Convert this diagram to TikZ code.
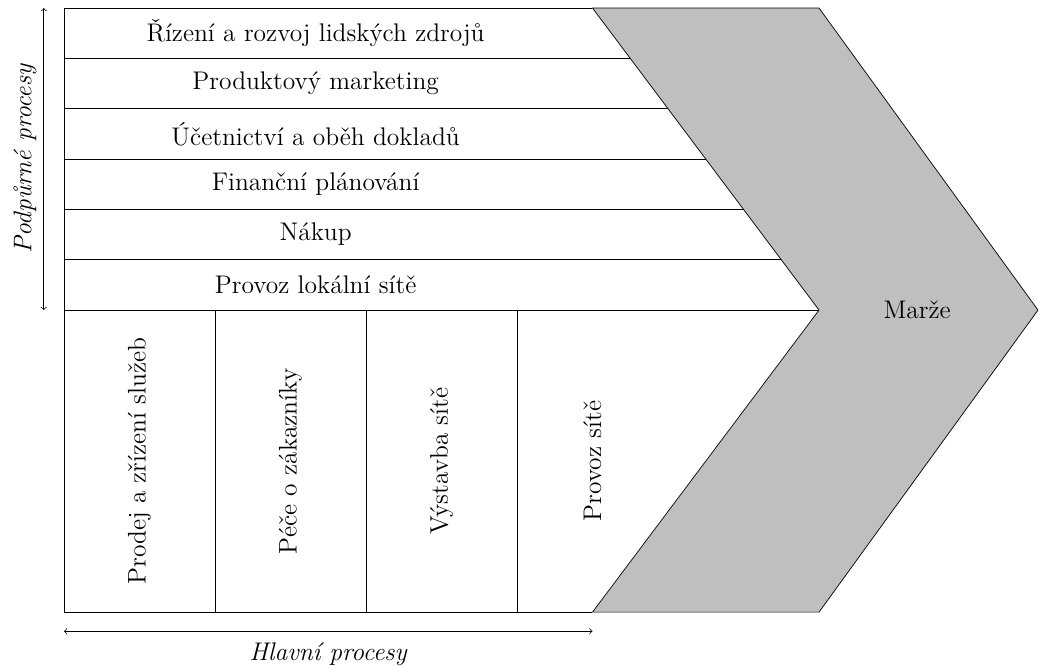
\documentclass[tikz,border=0pt]{standalone}
\begin{document}
\begin{tikzpicture}[
  font=\Large,
  frame/.style={draw=black, line width=0.4pt},
  chevron/.style={draw=black, fill=lightgray, line width=0.4pt},
  rowlabel/.style={inner sep=0pt},
  collabel/.style={rotate=90, inner sep=0pt},
  dimarrow/.style={<->, line width=0.4pt},
  axislabel/.style={font=\Large\itshape}
]
\useasboundingbox (-1.27,-7.07) rectangle (19.37,6.16);

% support rows: horizontal rules end on the left slant of the chevron
\foreach \y in {0,...,6}
  \draw[frame] (0,\y) -- ({10.5+0.75*(6-\y)},\y);
% outer frame of the main processes
\draw[frame] (0,6) -- (0,-6) -- (10.5,-6);
\foreach \x in {3,6,9}
  \draw[frame] (\x,0) -- (\x,-6);

% margin chevron
\draw[chevron] (10.5,6) -- (15,6) -- (19.35,0) -- (15,-6) -- (10.5,-6) -- (15,0) -- cycle;
\node (marze) at (16.95,0) {Marže};

% support processes
\node[rowlabel] (r1) at (5,5.5) {Řízení a rozvoj lidských zdrojů};
\node[rowlabel] (r2) at (5,4.5) {Produktový marketing};
\node[rowlabel] (r3) at (5,3.5) {Účetnictví a oběh dokladů};
\node[rowlabel] (r4) at (5,2.5) {Finanční plánování};
\node[rowlabel] (r5) at (5,1.5) {Nákup};
\node[rowlabel] (r6) at (5,0.5) {Provoz lokální sítě};

% main processes
\node[collabel] (c1) at (1.5,-3) {Prodej a zřízení služeb};
\node[collabel] (c2) at (4.5,-3) {Péče o zákazníky};
\node[collabel] (c3) at (7.5,-3) {Výstavba sítě};
\node[collabel] (c4) at (10.5,-3) {Provoz sítě};

% dimension arrows
\coordinate (vtop) at (-0.4,6);
\coordinate (vbot) at (-0.4,0);
\draw[dimarrow] (vbot) -- (vtop);
\node[axislabel, rotate=90, anchor=south] (vlabel) at (-0.42,3) {Podpůrné procesy};

\coordinate (hleft) at (0,-6.38);
\coordinate (hright) at (10.5,-6.38);
\draw[dimarrow] (hleft) -- (hright);
\node[axislabel, anchor=north] (hlabel) at (5.25,-6.48) {Hlavní procesy};
\end{tikzpicture}
\end{document}
